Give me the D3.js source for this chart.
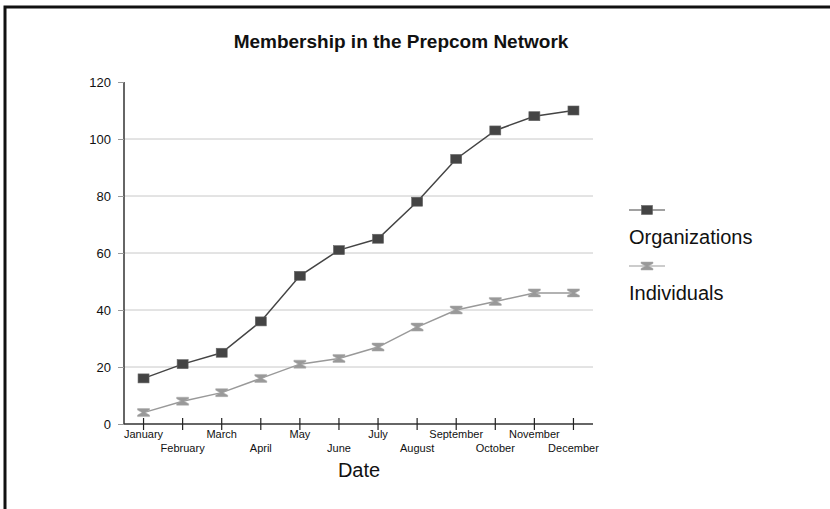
<!DOCTYPE html>
<html>
<head>
<meta charset="utf-8">
<script src="https://cdn.jsdelivr.net/npm/d3@7"></script>
<style>
  body { margin: 0; background: #fff; }
  svg { display: block; font-family: "Liberation Sans", Arial, sans-serif; }
</style>
</head>
<body>
<svg id="chart" width="830" height="509"></svg>
<script>
// data
var months = ["January", "February", "March", "April", "May", "June",
              "July", "August", "September", "October", "November", "December"];
var organizations = [16, 21, 25, 36, 52, 61, 65, 78, 93, 103, 108, 110];
var individuals = [4, 8, 11, 16, 21, 23, 27, 34, 40, 43, 46, 46];
var yTicks = [0, 20, 40, 60, 80, 100, 120];
var seriesNames = ["Organizations", "Individuals"];

var svg = d3.select("#chart");

// frame (top and left edges only)
svg.append("path")
   .attr("d", "M5,509 V7 H830")
   .attr("fill", "none")
   .attr("stroke", "#111")
   .attr("stroke-width", 3);

var x = d3.scaleBand().domain(months).range([124, 593]);
var y = d3.scaleLinear().domain([0, 120]).range([424, 82]);

// title
svg.append("text")
   .attr("x", 401).attr("y", 48)
   .attr("text-anchor", "middle")
   .attr("font-weight", "bold")
   .attr("font-size", "19px")
   .attr("fill", "#111")
   .text("Membership in the Prepcom Network");

// grid lines
svg.append("g").selectAll("line")
   .data(yTicks.filter(function(d){ return d > 0 && d < 120; }))
   .enter().append("line")
   .attr("x1", 124).attr("x2", 593)
   .attr("y1", function(d){ return y(d); })
   .attr("y2", function(d){ return y(d); })
   .attr("stroke", "#c8c8c8")
   .attr("stroke-width", 1);

// y axis
var yAxis = svg.append("g")
   .attr("transform", "translate(124,0)")
   .call(d3.axisLeft(y).tickValues(yTicks).tickSize(6).tickPadding(7));
yAxis.attr("font-size", 13).attr("font-family", "Liberation Sans, Arial, sans-serif");
yAxis.select(".domain").attr("stroke", "#333").attr("stroke-width", 1.5).attr("d", "M0,82V424");
yAxis.selectAll(".tick line").attr("stroke", "#999");
yAxis.selectAll(".tick text").attr("fill", "#111");

// x axis
var xAxis = svg.append("g")
   .attr("transform", "translate(0,424)")
   .call(d3.axisBottom(x).tickSize(0));
xAxis.attr("font-size", 11).attr("font-family", "Liberation Sans, Arial, sans-serif");
xAxis.select(".domain").attr("stroke", "#333").attr("stroke-width", 1.5).attr("d", "M124,0H593");
xAxis.selectAll(".tick line")
     .attr("y1", -6).attr("y2", 6)
     .attr("stroke", "#222").attr("stroke-width", 1.2);
xAxis.selectAll(".tick text")
     .attr("fill", "#111")
     .attr("dy", null)
     .attr("y", function(d, i){ return i % 2 === 0 ? 14 : 28; });

svg.append("text")
   .attr("x", 359).attr("y", 477)
   .attr("text-anchor", "middle")
   .attr("font-size", "20px")
   .attr("fill", "#111")
   .text("Date");

// marker shapes
var hourglass = "M-6,-4H6V-2.5L1.5,0L6,2.5V4H-6V2.5L-1.5,0L-6,-2.5Z";
function drawSquare(sel){
  sel.append("rect")
     .attr("x", -5.5).attr("y", -4.5).attr("width", 11).attr("height", 9)
     .attr("fill", "#444").attr("stroke", "#666").attr("stroke-width", 0.6);
}
function drawHourglass(sel){
  sel.append("path")
     .attr("d", hourglass)
     .attr("fill", "#999").attr("stroke", "#aaa").attr("stroke-width", 0.5);
}

var line = d3.line()
   .x(function(d, i){ return x(months[i]) + x.bandwidth() / 2; })
   .y(function(d){ return y(d); });

var series = [
  {name: seriesNames[0], values: organizations, color: "#444", marker: drawSquare},
  {name: seriesNames[1], values: individuals, color: "#999", marker: drawHourglass}
];

series.forEach(function(s){
  svg.append("path")
     .attr("d", line(s.values))
     .attr("fill", "none")
     .attr("stroke", s.color)
     .attr("stroke-width", 1.5);
  svg.append("g").selectAll("g")
     .data(s.values)
     .enter().append("g")
     .attr("transform", function(d, i){
       return "translate(" + (x(months[i]) + x.bandwidth() / 2) + "," + y(d) + ")";
     })
     .each(function(){ s.marker(d3.select(this)); });
});

// legend
var legend = svg.append("g").attr("transform", "translate(629,0)");
series.forEach(function(s, i){
  var ly = 210 + i * 56;
  legend.append("line")
     .attr("x1", 0).attr("x2", 36)
     .attr("y1", ly).attr("y2", ly)
     .attr("stroke", s.color).attr("stroke-width", 1.2);
  var m = legend.append("g").attr("transform", "translate(18," + ly + ")");
  s.marker(m);
  legend.append("text")
     .attr("x", 0).attr("y", ly + 34)
     .attr("font-size", "20px")
     .attr("fill", "#111")
     .text(s.name);
});
</script>
</body>
</html>
